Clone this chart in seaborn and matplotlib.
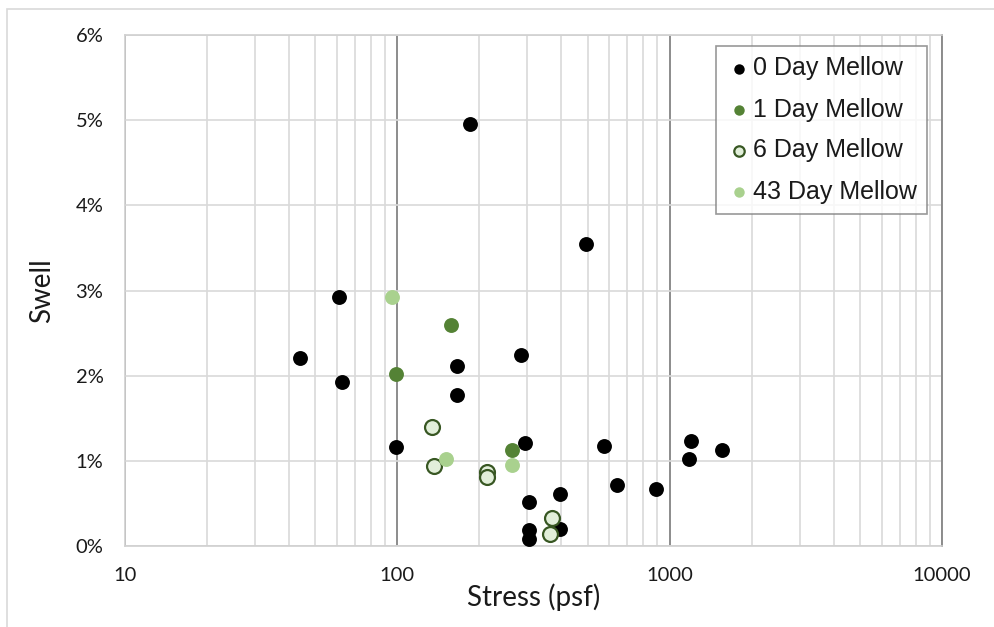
import matplotlib
matplotlib.use("Agg")
import matplotlib.pyplot as plt
import matplotlib.ticker as mticker
from matplotlib.patches import Rectangle
import seaborn as sns
import pandas as pd

# ---- data ----
stress_0 = [185, 493, 61, 44, 62.7, 165.6, 165.6, 284, 99, 294, 574, 641, 891, 1199, 1178, 1557, 305, 396, 305, 305, 396]
swell_0 = [4.95, 3.55, 2.92, 2.21, 1.93, 2.11, 1.77, 2.24, 1.16, 1.21, 1.17, 0.72, 0.67, 1.23, 1.02, 1.13, 0.52, 0.61, 0.19, 0.08, 0.20]
stress_1 = [157, 99, 264]
swell_1 = [2.60, 2.02, 1.13]
stress_6 = [134, 136, 213, 213, 370, 364]
swell_6 = [1.40, 0.94, 0.87, 0.81, 0.33, 0.14]
stress_43 = [95.6, 151, 264]
swell_43 = [2.92, 1.02, 0.95]
labels = ["0 Day Mellow", "1 Day Mellow", "6 Day Mellow", "43 Day Mellow"]

df = pd.concat([
    pd.DataFrame({"Stress": stress_0, "Swell": [v / 100 for v in swell_0], "Group": labels[0]}),
    pd.DataFrame({"Stress": stress_1, "Swell": [v / 100 for v in swell_1], "Group": labels[1]}),
    pd.DataFrame({"Stress": stress_6, "Swell": [v / 100 for v in swell_6], "Group": labels[2]}),
    pd.DataFrame({"Stress": stress_43, "Swell": [v / 100 for v in swell_43], "Group": labels[3]}),
])

sns.set_style("white")
plt.rcParams["font.family"] = ["Lato", "DejaVu Sans"]

fig = plt.figure(figsize=(9.95, 6.27), dpi=100)
ax = fig.add_axes([125 / 995, 1 - 546 / 627, (942 - 125) / 995, (546 - 35) / 627])

styles = {
    labels[0]: dict(color="black", edgecolor="black", linewidth=0),
    labels[1]: dict(color="#548235", edgecolor="#548235", linewidth=0),
    labels[2]: dict(color="#E2EFDA", edgecolor="#385723", linewidth=1.6),
    labels[3]: dict(color="#A9D18E", edgecolor="#A9D18E", linewidth=0),
}
for lab in labels:
    sub = df[df["Group"] == lab]
    sns.scatterplot(data=sub, x="Stress", y="Swell", ax=ax, s=115, label=lab,
                    zorder=3, **styles[lab])

ax.set_xscale("log")
ax.set_xlim(10, 10000)
ax.set_ylim(0, 0.06)
ax.xaxis.set_major_locator(mticker.LogLocator(base=10, numticks=10))
ax.xaxis.set_major_formatter(mticker.FuncFormatter(lambda v, p: f"{int(round(v))}"))
ax.xaxis.set_minor_locator(mticker.LogLocator(base=10, subs=range(2, 10), numticks=50))
ax.xaxis.set_minor_formatter(mticker.NullFormatter())
ax.yaxis.set_major_locator(mticker.MultipleLocator(0.01))
ax.yaxis.set_major_formatter(mticker.FuncFormatter(lambda v, p: f"{v * 100:.0f}%"))

ax.grid(True, which="major", axis="y", color="#D9D9D9", linewidth=1.2, zorder=0)
ax.grid(True, which="minor", axis="x", color="#D9D9D9", linewidth=1.2, zorder=0)
ax.grid(True, which="major", axis="x", color="#8C8C8C", linewidth=1.4, zorder=1)
ax.set_axisbelow(True)

for side in ["left", "bottom", "top"]:
    ax.spines[side].set_color("#D0D0D0")
    ax.spines[side].set_linewidth(1.2)
ax.spines["right"].set_color("#8C8C8C")
ax.spines["right"].set_linewidth(1.4)

ax.tick_params(axis="both", which="both", length=0, labelsize=14.5)
ax.tick_params(axis="x", pad=15)
ax.tick_params(axis="y", pad=15.5)
for t in ax.get_xticklabels() + ax.get_yticklabels():
    t.set_color("#1a1a1a")

ax.set_xlabel("Stress (psf)", fontsize=20, color="#1a1a1a")
ax.set_ylabel("Swell", fontsize=20, color="#1a1a1a")
ax.xaxis.set_label_coords(0.5, -(597 - 546) / (546 - 35), transform=ax.transAxes)
ax.xaxis.label.set_va("center")
ax.yaxis.set_label_coords(-(125 - 42) / (942 - 125), 0.5, transform=ax.transAxes)
ax.yaxis.label.set_va("center")

leg = ax.legend(loc="upper right", bbox_to_anchor=(927 / 995, 1 - 46 / 627),
                bbox_transform=fig.transFigure, frameon=True,
                prop={"family": ["Liberation Sans", "DejaVu Sans"], "size": 18},
                fancybox=False, edgecolor="#7F7F7F", markerscale=0.7,
                handletextpad=0.05, borderpad=0.42, labelspacing=0.68,
                handlelength=1.0, borderaxespad=0)
leg.get_frame().set_linewidth(1.2)
for t in leg.get_texts():
    t.set_color("#1a1a1a")

fig.patches.append(Rectangle((7 / 995, -0.1), 1.2, (627 - 9) / 627 + 0.1,
                             transform=fig.transFigure, fill=False,
                             edgecolor="#D9D9D9", linewidth=1.2))

fig.savefig("out.png", dpi=100)
